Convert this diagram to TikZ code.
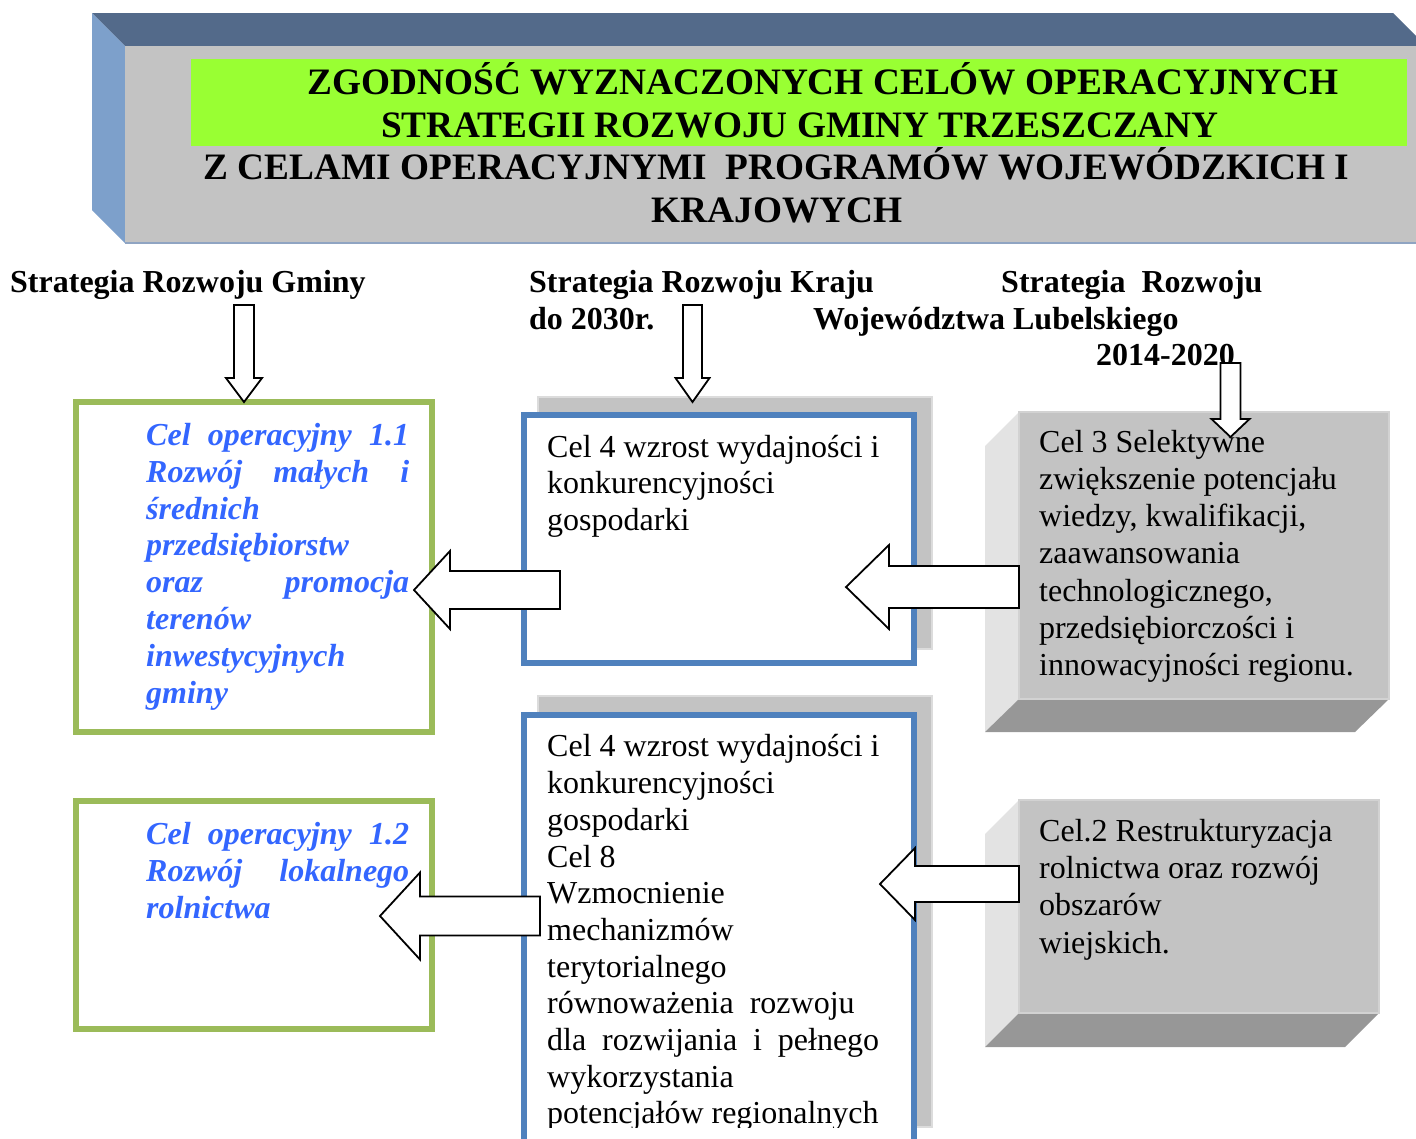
\documentclass[tikz,border=0pt]{standalone}
\usepackage{fontspec}
\setmainfont{Liberation Serif}
\definecolor{bannerTop}{HTML}{536A8A}
\definecolor{bannerLeft}{HTML}{7DA0CB}
\definecolor{bannerFront}{HTML}{C3C3C3}
\definecolor{bannerLine}{HTML}{8FA4C2}
\definecolor{hlgreen}{HTML}{99FF33}
\definecolor{greenB}{HTML}{9BBB59}
\definecolor{blueB}{HTML}{4F81BD}
\definecolor{blueT}{HTML}{3366FF}
\definecolor{shadowG}{HTML}{C3C3C3}
\definecolor{shadowL}{HTML}{DCDCDC}
\definecolor{boxFront}{HTML}{C3C3C3}
\definecolor{boxEdge}{HTML}{D2D2D2}
\definecolor{boxLeft}{HTML}{E3E3E3}
\definecolor{boxBottom}{HTML}{979797}
\newcommand\blockL[6]{% tip x, y, head back x, right end x, shaft half, head half
  \draw[barrow] (#1,#2) -- (#3,{#2-#6}) -- (#3,{#2-#5}) -- (#4,{#2-#5}) -- (#4,{#2+#5}) -- (#3,{#2+#5}) -- (#3,{#2+#6}) -- cycle;}
\newcommand\blockD[6]{% x, top, head base, tip, shaft half, head half
  \draw[barrow] ({#1-#5},#2) -- ({#1+#5},#2) -- ({#1+#5},#3) -- ({#1+#6},#3) -- (#1,#4) -- ({#1-#6},#3) -- ({#1-#5},#3) -- cycle;}
\begin{document}
\begin{tikzpicture}[x=1pt,y=-1pt,
  barrow/.style={draw=black, fill=white, line width=1.8pt, line join=miter},
  plainbox/.style={inner sep=0pt, outer sep=0pt, anchor=north west},
  shadowbox/.style={plainbox, fill=shadowG, draw=shadowL, line width=2pt},
  bluebox/.style={plainbox, fill=white, draw=blueB, line width=6.5pt},
  greenbox/.style={plainbox, fill=white, draw=greenB, line width=6.5pt},
  frontbox/.style={plainbox, fill=boxFront, draw=boxEdge, line width=1.5pt},
  titlef/.style={inner sep=0pt, anchor=base, font=\fontsize{37.3}{43}\selectfont\bfseries},
  headf/.style={inner sep=0pt, anchor=base west, font=\fontsize{32}{37}\selectfont\bfseries},
  bodyf/.style={inner sep=0pt, anchor=north west, align=left, font=\fontsize{32}{36.7}\selectfont},
  grayf/.style={inner sep=0pt, anchor=north west, align=left, font=\fontsize{32}{37.2}\selectfont},
  greenf/.style={inner sep=0pt, anchor=north west, align=left, text=blueT, font=\fontsize{32}{36.9}\selectfont\bfseries\itshape}
]
\useasboundingbox (0,0) rectangle (1416,1138);
\clip (0,0) rectangle (1416,1138);

% banner
\fill[bannerTop] (92,13) -- (1393,13) -- (1426,46) -- (125,46) -- cycle;
\fill[bannerLeft] (92,13) -- (125,46) -- (125,243) -- (92,210) -- cycle;
\node[plainbox, fill=bannerFront, minimum width=1300, minimum height=197] (front) at (125,46) {};
\draw[bannerLine, line width=2.5pt] (125,243) -- (1425,243);
\node[plainbox, fill=hlgreen, minimum width=1216, minimum height=87] (hl) at (191,59) {};
\node[titlef] (t1) at (823,94) {ZGODNOŚĆ WYZNACZONYCH CELÓW OPERACYJNYCH};
\node[titlef] (t2) at (800,137) {STRATEGII ROZWOJU GMINY TRZESZCZANY};
\node[titlef] (t3) at (776.5,179) {Z CELAMI OPERACYJNYMI~ PROGRAMÓW WOJEWÓDZKICH I};
\node[titlef] (t4) at (777,222) {KRAJOWYCH};

% headings
\node[headf] (h1) at (10,292) {Strategia Rozwoju Gminy};
\node[headf] (h2) at (529,292) {Strategia Rozwoju Kraju};
\node[headf] (h2b) at (529,329) {do 2030r.};
\node[headf] (h3) at (1001,292) {Strategia~ Rozwoju};
\node[headf] (h3b) at (813,329) {Województwa Lubelskiego};
\node[headf] (h3c) at (1096,365) {2014-2020};

% green boxes
\node[greenbox, minimum width=356, minimum height=330] (g1) at (76,402) {};
\node[greenbox, minimum width=356, minimum height=228] (g2) at (76,801) {};

% blue boxes with shadows
\node[shadowbox, minimum width=394, minimum height=252] (s1) at (538,397) {};
\node[bluebox, minimum width=390, minimum height=248] (b1) at (524,415) {};
\node[shadowbox, minimum width=394, minimum height=431] (s2) at (538,696) {};
\node[bluebox, minimum width=390, minimum height=460] (b2) at (524,715) {};

% right 3D gray boxes
\fill[boxLeft] (985,446) -- (1019,412) -- (1019,699) -- (985,732) -- cycle;
\fill[boxBottom] (985,732) -- (1019,699) -- (1389,699) -- (1355,732) -- cycle;
\node[frontbox, minimum width=370, minimum height=287] (r1) at (1019,412) {};
\fill[boxLeft] (985,834) -- (1019,800) -- (1019,1013) -- (985,1047) -- cycle;
\fill[boxBottom] (985,1047) -- (1019,1013) -- (1379,1013) -- (1345,1047) -- cycle;
\node[frontbox, minimum width=360, minimum height=213] (r2) at (1019,800) {};

% block arrows
\blockD{244}{305}{378}{402}{10}{18}
\blockD{692.5}{305}{378}{402}{9.5}{17}
\blockD{1230.5}{363}{419}{437}{10}{19}
\blockL{414}{590}{450}{560}{19}{39}
\blockL{846}{587}{889}{1019}{21}{42}
\blockL{880}{884}{915}{1019}{18}{36}
\blockL{380}{916}{420}{540}{19.5}{43.5}

% texts
\node[greenf, text width=263] (g1t) at (146,419.2) {\strut\makebox[263pt][l]{Cel\hfill operacyjny\hfill 1.1}\\
\makebox[263pt][l]{Rozwój\hfill małych\hfill i}\\
średnich\\
przedsiębiorstw\\
\makebox[263pt][l]{oraz\hfill promocja}\\
terenów\\
inwestycyjnych\\
gminy};
\node[greenf, text width=263] (g2t) at (146,818.2) {\strut\makebox[263pt][l]{Cel\hfill operacyjny\hfill 1.2}\\
\makebox[263pt][l]{Rozwój\hfill lokalnego}\\
rolnictwa};

\node[bodyf] (b1t) at (547,431.3) {\strut Cel 4 wzrost wydajności i\\
konkurencyjności\\
gospodarki};

\begin{scope}
\clip (524,715) rectangle (914,1127);
\node[bodyf] (b2t) at (547,731) {\strut Cel 4 wzrost wydajności i\\
konkurencyjności\\
gospodarki\\
Cel 8\\
Wzmocnienie\\
mechanizmów\\
terytorialnego\\
równoważenia~ rozwoju\\
\makebox[332pt][l]{dla\hfill rozwijania\hfill i\hfill pełnego}\\
wykorzystania\\
potencjałów regionalnych};
\end{scope}

\node[grayf] (r1t) at (1039,426) {\strut Cel 3 Selektywne\\
zwiększenie potencjału\\
wiedzy, kwalifikacji,\\
zaawansowania\\
technologicznego,\\
przedsiębiorczości i\\
innowacyjności regionu.};
\node[grayf] (r2t) at (1039,815.3) {\strut Cel.2 Restrukturyzacja\\
rolnictwa oraz rozwój\\
obszarów\\
wiejskich.};
\end{tikzpicture}
\end{document}
